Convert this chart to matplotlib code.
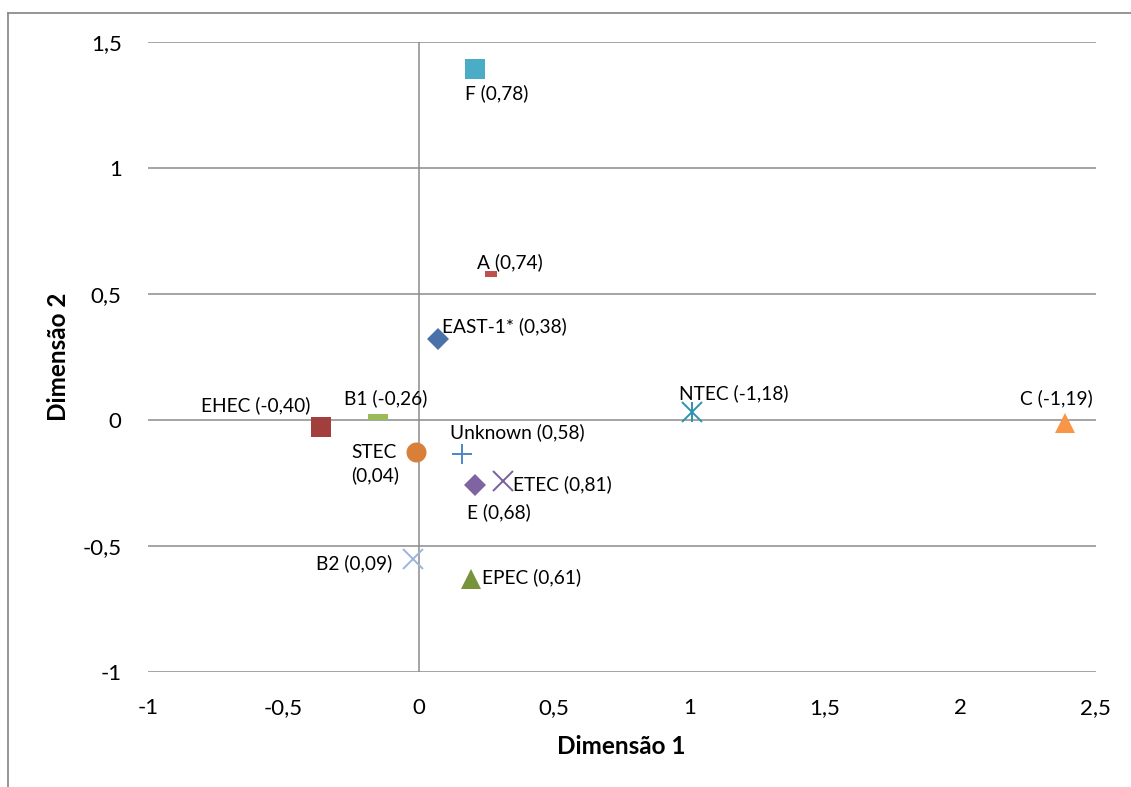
import matplotlib
matplotlib.use("Agg")
import matplotlib.pyplot as plt
from matplotlib.lines import Line2D
from matplotlib.path import Path

# ---- data -------------------------------------------------------------
groups = ["F", "A", "EAST-1*", "EHEC", "B1", "STEC", "Unknown",
          "E", "ETEC", "NTEC", "C", "B2", "EPEC"]
dim1 = [0.209, 0.267, 0.071, -0.360, -0.150, -0.011, 0.162,
        0.209, 0.310, 1.010, 2.388, -0.021, 0.192]
dim2 = [1.391, 0.580, 0.320, -0.027, 0.012, -0.127, -0.133,
        -0.259, -0.243, 0.031, -0.010, -0.549, -0.631]
point_labels = ["F (0,78)", "A (0,74)", "EAST-1* (0,38)", "EHEC (-0,40)",
                "B1 (-0,26)", "STEC\n(0,04)", "Unknown (0,58)", "E (0,68)",
                "ETEC (0,81)", "NTEC (-1,18)", "C (-1,19)", "B2 (0,09)",
                "EPEC (0,61)"]

x_ticks = [-1, -0.5, 0, 0.5, 1, 1.5, 2, 2.5]
x_tick_labels = ["-1", "-0,5", "0", "0,5", "1", "1,5", "2", "2,5"]
y_ticks = [-1, -0.5, 0, 0.5, 1, 1.5]
y_tick_labels = ["-1", "-0,5", "0", "0,5", "1", "1,5"]

# ---- marker shapes ----------------------------------------------------
def bar_marker(ratio):
    return Path([(-1, -ratio), (1, -ratio), (1, ratio), (-1, ratio), (-1, -ratio)],
                [Path.MOVETO, Path.LINETO, Path.LINETO, Path.LINETO, Path.CLOSEPOLY])

# per group: marker, colour, size (pt), label offset (px, up positive), ha
styles = {
    "F":       dict(marker="s", color="#4BACC6", ms=15.0, off=(-10, -24), ha="left"),
    "A":       dict(marker=bar_marker(0.42), color="#C0504D", ms=8.6, off=(-13.5, 12), ha="left"),
    "EAST-1*": dict(marker="D", color="#4A72A8", ms=10.7, off=(4, 13), ha="left"),
    "EHEC":    dict(marker="s", color="#A23E3B", ms=15.0, off=(-11, 21.5), ha="right"),
    "B1":      dict(marker=bar_marker(0.29), color="#9BBB59", ms=15.1, off=(-34, 18.5), ha="left"),
    "STEC":    dict(marker="o", color="#D8803A", ms=14.4, off=(-64, -12), ha="left"),
    "Unknown": dict(marker="+", color="#4A86C8", ms=13.7, off=(-12.5, 21), ha="left"),
    "E":       dict(marker="D", color="#8064A2", ms=10.7, off=(-8.6, -27), ha="left"),
    "ETEC":    dict(marker="x", color="#7B5E9E", ms=14.4, off=(10.6, -3), ha="left"),
    "NTEC":    dict(marker="asterisk", color="#2C93AE", ms=13.7, off=(-13, 19), ha="left"),
    "C":       dict(marker="^", color="#F79646", ms=15.0, off=(-45.5, 24), ha="left"),
    "B2":      dict(marker="x", color="#9BB5DB", ms=14.4, off=(-21, -5), ha="right"),
    "EPEC":    dict(marker="^", color="#77933C", ms=15.0, off=(11, 2), ha="left"),
}

plt.rcParams["font.family"] = ["Lato", "DejaVu Sans"]

W, H = 1131, 787
fig = plt.figure(figsize=(W / 100, H / 100), dpi=100)
ax = fig.add_axes([147.7 / W, 1 - 672.3 / H, 948 / W, 630.6 / H])

grid_col = "#8C8C8C"
ax.set_xlim(-1, 2.5)
ax.set_ylim(-1, 1.5)
for s in ax.spines.values():
    s.set_visible(False)
for yv in y_ticks:
    ax.axhline(yv, color=grid_col, lw=1.1, zorder=1)
ax.axvline(0, color=grid_col, lw=1.1, zorder=1)

ax.set_xticks(x_ticks)
ax.set_xticklabels(x_tick_labels)
ax.set_yticks(y_ticks)
ax.set_yticklabels(y_tick_labels)
ax.tick_params(axis="both", length=0, labelsize=16, colors="#000000")
ax.tick_params(axis="x", pad=18.5)
ax.tick_params(axis="y", pad=18.7)

for g, x, y, lab in zip(groups, dim1, dim2, point_labels):
    st = styles[g]
    if st["marker"] == "asterisk":
        ax.plot(x, y, marker="x", ms=st["ms"], mew=1.4, color=st["color"],
                linestyle="none", zorder=3)
        ax.plot(x, y, marker="|", ms=st["ms"] * 1.05, mew=1.4, color=st["color"],
                linestyle="none", zorder=3)
    elif st["marker"] in ("x", "+"):
        ax.plot(x, y, marker=st["marker"], ms=st["ms"], mew=1.4, color=st["color"],
                linestyle="none", zorder=3)
    else:
        ax.plot(x, y, marker=st["marker"], ms=st["ms"], mew=0, color=st["color"],
                linestyle="none", zorder=3)
    dx, dy = st["off"]
    ax.annotate(lab, (x, y), xytext=(dx * 0.72, dy * 0.72), textcoords="offset points",
                ha=st["ha"], va="center", fontsize=13.8, color="#000000",
                linespacing=1.4, multialignment="left", zorder=4)

fig.text(621 / W, 1 - 747 / H, "Dimensão 1", ha="center", va="center",
         fontsize=17.5, fontweight="bold")
fig.text(58 / W, 1 - 357 / H, "Dimensão 2", ha="center", va="center",
         rotation=90, fontsize=17.5, fontweight="bold")

# chart area frame (top and left edges)
fy = 1 - 12.5 / H
fx = 8 / W
fig.add_artist(Line2D([fx, fx], [0, fy], transform=fig.transFigure, color=grid_col, lw=1.3))
fig.add_artist(Line2D([fx, 1], [fy, fy], transform=fig.transFigure, color=grid_col, lw=1.3))

fig.savefig("out.png", dpi=100)
